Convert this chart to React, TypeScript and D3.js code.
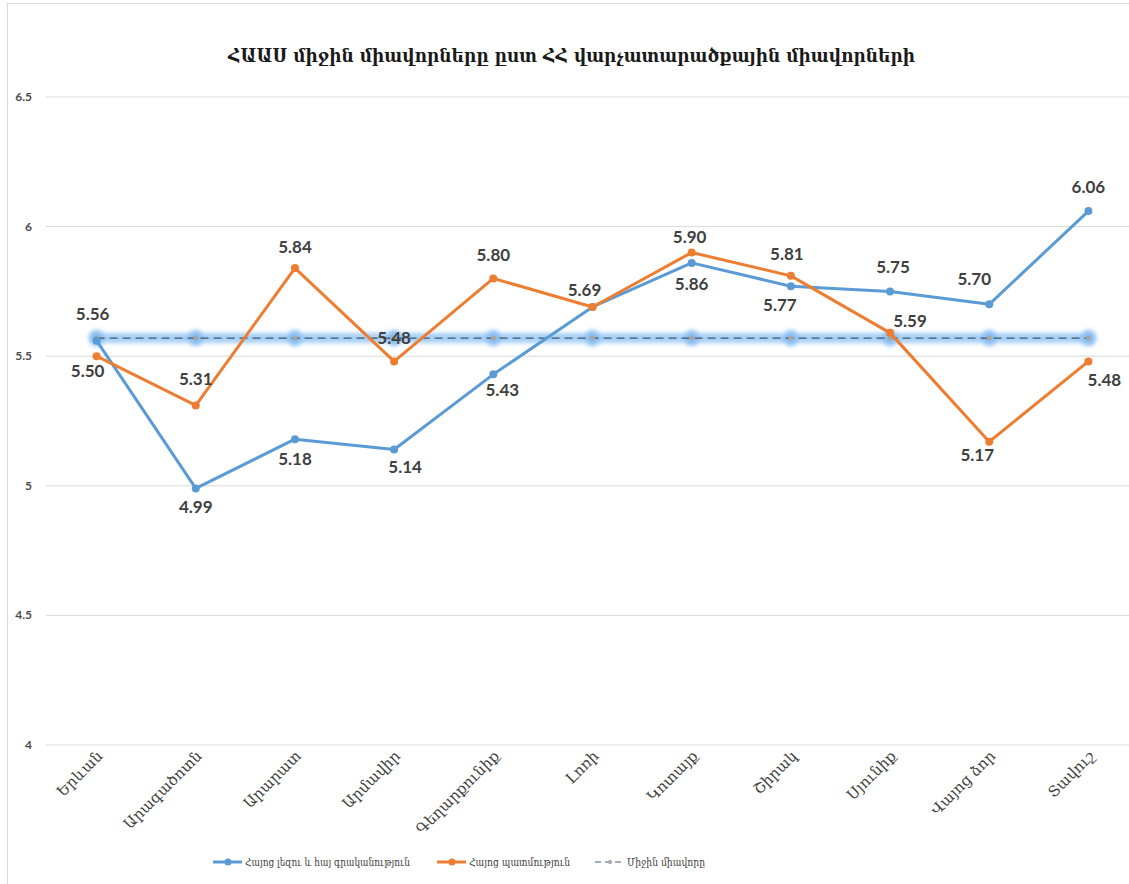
import React, { useEffect, useRef } from 'react';
import * as d3 from 'd3';

const regions = ['Երևան', 'Արագածոտն', 'Արարատ', 'Արմավիր', 'Գեղարքունիք', 'Լոռի', 'Կոտայք', 'Շիրակ', 'Սյունիք', 'Վայոց ձոր', 'Տավուշ'];
const armenianLang = [5.56, 4.99, 5.18, 5.14, 5.43, 5.69, 5.86, 5.77, 5.75, 5.70, 6.06];
const armenianHistory = [5.50, 5.31, 5.84, 5.48, 5.80, 5.69, 5.90, 5.81, 5.59, 5.17, 5.48];
const averageScore = [5.57, 5.57, 5.57, 5.57, 5.57, 5.57, 5.57, 5.57, 5.57, 5.57, 5.57];
const yTicks = [4, 4.5, 5, 5.5, 6, 6.5];
const seriesNames = ['Հայոց լեզու և հայ գրականություն', 'Հայոց պատմություն', 'Միջին միավորը'];
const title = 'ՀԱԱՍ միջին միավորները ըստ ՀՀ վարչատարածքային միավորների';

// label placement relative to the point: [dx, dy of text centre]
const langLabelPos: [number, number][] = [[-4, -27], [0, 19], [0, 20], [11, 17], [9, 16], [-8, -17], [0, 21], [-11, 19], [3, -24], [-15, -25], [0, -24]];
const histLabelPos: [number, number][] = [[-9, 15], [0, -26], [0, -21], [0, -23], [0, -23], [0, 0], [-2, -16], [-4, -22], [20, -12], [-12, 13], [16, 19]];

const BLUE = '#5B9BD5';
const ORANGE = '#ED7D31';

export default function App() {
  const ref = useRef<SVGSVGElement>(null);

  useEffect(() => {
    const svg = d3.select(ref.current);
    svg.selectAll('*').remove();

    const x = d3.scaleBand().domain(regions).range([47, 1138]);
    const cx = (i: number) => (x(regions[i]) as number) + x.bandwidth() / 2;
    const y = d3.scaleLinear().domain([4, 6.5]).range([745, 97]);

    const defs = svg.append('defs');
    defs.append('filter').attr('id', 'glow').attr('filterUnits', 'userSpaceOnUse')
      .attr('x', 0).attr('y', 0).attr('width', 1129).attr('height', 884)
      .append('feGaussianBlur').attr('stdDeviation', 2);

    // border
    svg.append('rect').attr('x', 7.5).attr('y', 3.5).attr('width', 1200).attr('height', 1000)
      .attr('fill', 'white').attr('stroke', '#d9d9d9');

    // title
    svg.append('text').attr('x', 228).attr('y', 62)
      .attr('textLength', 687).attr('lengthAdjust', 'spacingAndGlyphs')
      .attr('font-family', '"DejaVu Serif", serif').attr('font-size', 18).attr('font-weight', 'bold')
      .attr('fill', '#1a1a1a').text(title);

    // grid + y axis
    const g = svg.append('g');
    g.selectAll('.grid').data(yTicks).join('line')
      .attr('x1', 46).attr('x2', 1129)
      .attr('y1', d => y(d)).attr('y2', d => y(d))
      .attr('stroke', '#d9d9d9').attr('stroke-width', 1);
    g.selectAll('.ytick').data(yTicks).join('text')
      .attr('x', 32).attr('y', d => y(d) + 4).attr('text-anchor', 'end')
      .attr('font-family', 'Lato, sans-serif').attr('font-size', 12).attr('font-weight', 'bold')
      .attr('fill', '#4d4d4d').text(d => String(d));

    // x labels
    g.selectAll('.xlab').data(regions).join('text')
      .attr('transform', (d, i) => `translate(${cx(i) + 7},${757}) rotate(-45)`)
      .attr('text-anchor', 'end')
      .attr('font-family', '"DejaVu Serif", serif').attr('font-size', 15)
      .attr('fill', '#404040').text(d => d);

    const line = d3.line<number>().x((d, i) => cx(i)).y(d => y(d));

    // average with glow
    const avg = svg.append('g');
    const glow = avg.append('g').attr('filter', 'url(#glow)').attr('opacity', 0.9);
    glow.append('path').datum(averageScore).attr('d', line)
      .attr('fill', 'none').attr('stroke', '#9ccaf5').attr('stroke-width', 10).attr('stroke-linecap', 'round');
    glow.selectAll('circle').data(averageScore).join('circle')
      .attr('cx', (d, i) => cx(i)).attr('cy', d => y(d)).attr('r', 8)
      .attr('fill', '#7db8f0');
    avg.append('path').datum(averageScore).attr('d', line)
      .attr('fill', 'none').attr('stroke', '#44546A').attr('stroke-width', 1.3).attr('stroke-dasharray', '8,5');
    avg.selectAll('.gm').data(averageScore).join('circle')
      .attr('cx', (d, i) => cx(i)).attr('cy', d => y(d)).attr('r', 2.5).attr('fill', '#a5a5a5');

    const drawSeries = (data: number[], color: string) => {
      const s = svg.append('g');
      s.append('path').datum(data).attr('d', line)
        .attr('fill', 'none').attr('stroke', color).attr('stroke-width', 3).attr('stroke-linejoin', 'round');
      s.selectAll('circle').data(data).join('circle')
        .attr('cx', (d, i) => cx(i)).attr('cy', d => y(d)).attr('r', 4).attr('fill', color);
    };
    drawSeries(armenianLang, BLUE);
    drawSeries(armenianHistory, ORANGE);

    const labelG = svg.append('g');
    const addLabels = (data: number[], pos: [number, number][], skip: number[]) => {
      data.forEach((d, i) => {
        if (skip.includes(i)) return;
        labelG.append('text')
          .attr('x', cx(i) + pos[i][0])
          .attr('y', y(d) + pos[i][1] + 6)
          .attr('text-anchor', 'middle')
          .attr('font-family', 'Lato, sans-serif').attr('font-size', 17).attr('font-weight', 'bold')
          .attr('fill', '#404040').text(d.toFixed(2));
      });
    };
    addLabels(armenianLang, langLabelPos, []);
    addLabels(armenianHistory, histLabelPos, [5]);

    // legend
    const legend = svg.append('g').attr('font-family', '"DejaVu Serif", serif').attr('font-size', 11.5).attr('fill', '#404040');
    const items = [
      { x: 213, color: BLUE, dash: null as string | null, dot: BLUE, w: 3, tw: 165 },
      { x: 437, color: ORANGE, dash: null, dot: ORANGE, w: 3, tw: 101 },
      { x: 595, color: '#8497B0', dash: '6,4', dot: '#a5a5a5', w: 1.5, tw: 78 },
    ];
    items.forEach((it, i) => {
      legend.append('line').attr('x1', it.x).attr('x2', it.x + 29).attr('y1', 862).attr('y2', 862)
        .attr('stroke', it.color).attr('stroke-width', it.w).attr('stroke-dasharray', it.dash);
      legend.append('circle').attr('cx', it.x + 15).attr('cy', 862).attr('r', i === 2 ? 2 : 3.5).attr('fill', it.dot);
      legend.append('text').attr('x', it.x + 32).attr('y', 866)
        .attr('textLength', it.tw).attr('lengthAdjust', 'spacingAndGlyphs').text(seriesNames[i]);
    });
  }, []);

  return <svg ref={ref} width={1129} height={884} style={{ position: 'absolute', left: 0, top: 0 }} />;
}
